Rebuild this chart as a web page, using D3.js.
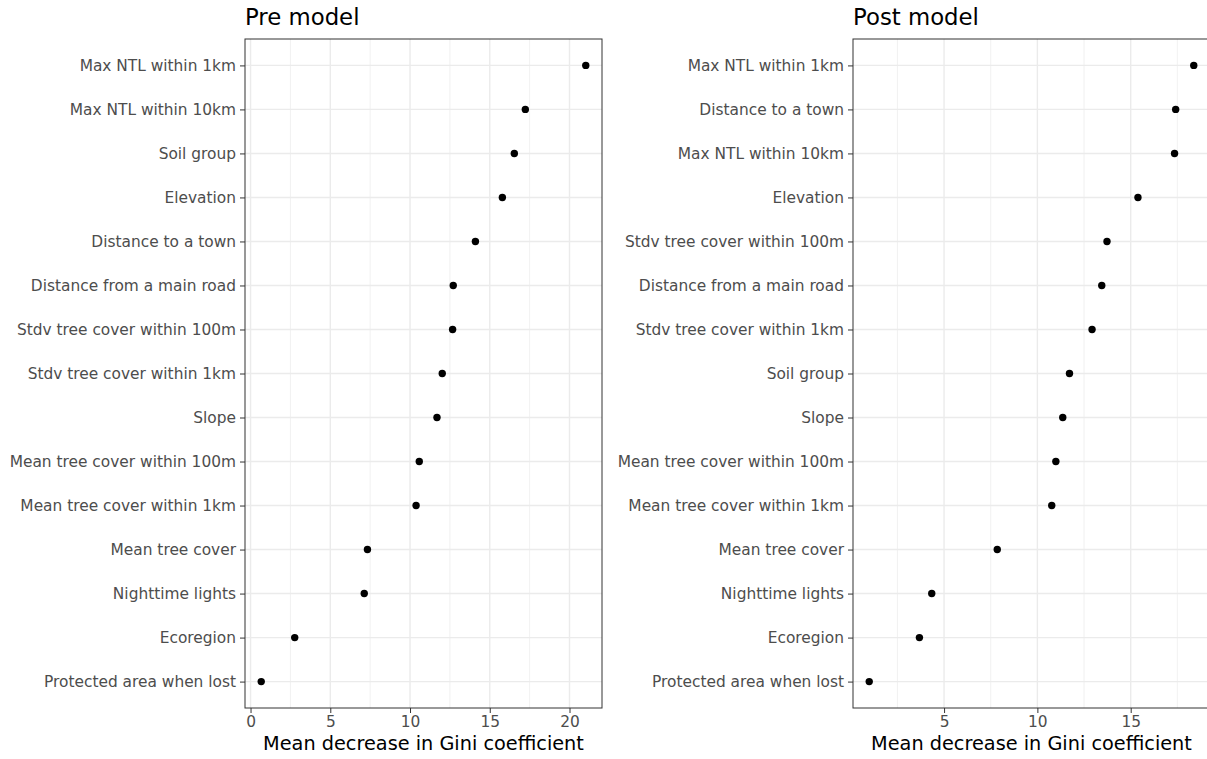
<!DOCTYPE html>
<html>
<head>
<meta charset="utf-8">
<script src="https://cdn.jsdelivr.net/npm/d3@7"></script>
<style>
  body { margin: 0; background: #fff; overflow: hidden; }
  svg { display: block; font-family: "DejaVu Sans", sans-serif; }
</style>
</head>
<body>
<svg id="chart" width="1207" height="759"></svg>
<script>
// pre model: variables top to bottom and their mean decrease in Gini
var preLabels = ["Max NTL within 1km", "Max NTL within 10km", "Soil group", "Elevation",
  "Distance to a town", "Distance from a main road", "Stdv tree cover within 100m",
  "Stdv tree cover within 1km", "Slope", "Mean tree cover within 100m",
  "Mean tree cover within 1km", "Mean tree cover", "Nighttime lights", "Ecoregion",
  "Protected area when lost"];
var preValues = [21.02, 17.23, 16.54, 15.79, 14.1, 12.71, 12.67, 12.02, 11.69, 10.58,
  10.38, 7.33, 7.13, 2.77, 0.67];
var preTicks = [0, 5, 10, 15, 20];

// post model
var postLabels = ["Max NTL within 1km", "Distance to a town", "Max NTL within 10km", "Elevation",
  "Stdv tree cover within 100m", "Distance from a main road", "Stdv tree cover within 1km",
  "Soil group", "Slope", "Mean tree cover within 100m", "Mean tree cover within 1km",
  "Mean tree cover", "Nighttime lights", "Ecoregion", "Protected area when lost"];
var postValues = [18.38, 17.41, 17.35, 15.39, 13.73, 13.45, 12.93, 11.72, 11.36, 10.99,
  10.77, 7.85, 4.34, 3.68, 0.99];
var postTicks = [5, 10, 15];

var svg = d3.select("#chart");

function drawPanel(opts) {
  var left = opts.left, top = 39, width = 357, height = 669;
  var data = opts.labels.map(function(d, i) { return {name: d, value: opts.values[i]}; });

  // ggplot style 5% expansion
  var lo = d3.min(opts.values), hi = d3.max(opts.values);
  var pad = (hi - lo) * 0.05;
  var x = d3.scaleLinear().domain([lo - pad, hi + pad]).range([0, width]);
  var y = d3.scalePoint().domain(opts.labels).range([0, height]).padding(0.6);

  var g = svg.append("g").attr("transform", "translate(" + left + "," + top + ")");

  // minor grid (half way between majors)
  var minor = [];
  for (var i = 0; i < opts.ticks.length + 1; i++) {
    var step = opts.ticks[1] - opts.ticks[0];
    var m = opts.ticks[0] - step / 2 + i * step;
    if (m > x.domain()[0] && m < x.domain()[1]) minor.push(m);
  }
  g.selectAll(".minor").data(minor).enter().append("line")
    .attr("x1", function(d) { return x(d); }).attr("x2", function(d) { return x(d); })
    .attr("y1", 0).attr("y2", height)
    .attr("stroke", "#ebebeb").attr("stroke-width", 0.7);

  // major grid
  g.selectAll(".vmajor").data(opts.ticks).enter().append("line")
    .attr("x1", function(d) { return x(d); }).attr("x2", function(d) { return x(d); })
    .attr("y1", 0).attr("y2", height)
    .attr("stroke", "#ebebeb").attr("stroke-width", 1.4);
  g.selectAll(".hmajor").data(opts.labels).enter().append("line")
    .attr("x1", 0).attr("x2", width)
    .attr("y1", function(d) { return y(d); }).attr("y2", function(d) { return y(d); })
    .attr("stroke", "#ebebeb").attr("stroke-width", 1.4);

  // points
  g.selectAll(".pt").data(data).enter().append("circle")
    .attr("cx", function(d) { return x(d.value); })
    .attr("cy", function(d) { return y(d.name); })
    .attr("r", 3.7)
    .attr("fill", "#000");

  // panel border
  g.append("rect").attr("x", 0).attr("y", 0).attr("width", width).attr("height", height)
    .attr("fill", "none").attr("stroke", "#333333").attr("stroke-width", 1);

  // axes
  var xAxis = g.append("g").attr("transform", "translate(0," + height + ")")
    .call(d3.axisBottom(x).tickValues(opts.ticks).tickSize(5).tickPadding(3));
  var yAxis = g.append("g")
    .call(d3.axisLeft(y).tickSize(5).tickPadding(4));
  [xAxis, yAxis].forEach(function(a) {
    a.select(".domain").remove();
    a.selectAll(".tick line").attr("stroke", "#333333").attr("stroke-width", 1);
    a.selectAll(".tick text").attr("fill", "#4d4d4d").style("font-size", "15.4px")
      .style("font-family", "DejaVu Sans");
  });
  yAxis.selectAll(".tick text").attr("dy", "0.34em");

  // titles
  g.append("text").attr("x", 0).attr("y", -14)
    .style("font-size", "22.8px").attr("fill", "#000").text(opts.title);
  g.append("text").attr("x", width / 2).attr("y", height + 42)
    .attr("text-anchor", "middle")
    .style("font-size", "19.3px").attr("fill", "#000").text("Mean decrease in Gini coefficient");
}

drawPanel({left: 245, title: "Pre model", labels: preLabels, values: preValues, ticks: preTicks});
drawPanel({left: 853, title: "Post model", labels: postLabels, values: postValues, ticks: postTicks});
</script>
</body>
</html>
